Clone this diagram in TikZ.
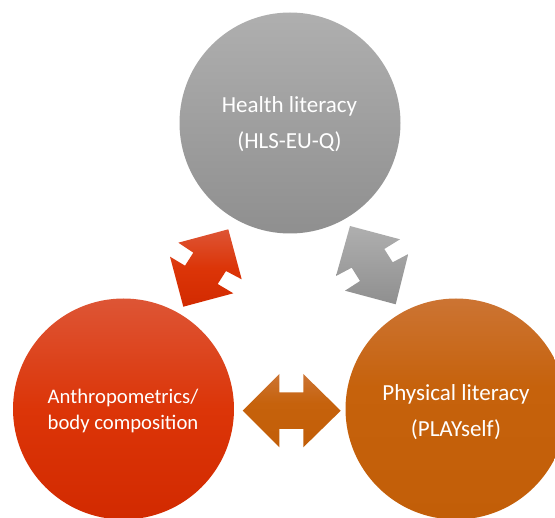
\documentclass[tikz,border=0pt]{standalone}
\usepackage{fontspec}
\setmainfont{Carlito}
\definecolor{gl}{HTML}{8F8F8F}\definecolor{gh}{HTML}{AFAFAF}
\definecolor{rl}{HTML}{D22A00}\definecolor{rm}{HTML}{DC3508}\definecolor{rh}{HTML}{DD5535}
\definecolor{ol}{HTML}{C25E08}\definecolor{om}{HTML}{C6620C}\definecolor{oh}{HTML}{CC7433}
\pgfdeclareverticalshading{grayshade}{100bp}{color(0bp)=(gl);color(25bp)=(gl);color(75bp)=(gh);color(100bp)=(gh)}
\pgfdeclareverticalshading{redshade}{100bp}{color(0bp)=(rl);color(25bp)=(rl);color(50bp)=(rm);color(75bp)=(rh);color(100bp)=(rh)}
\pgfdeclareverticalshading{orgshade}{100bp}{color(0bp)=(ol);color(25bp)=(ol);color(55bp)=(om);color(75bp)=(oh);color(100bp)=(oh)}
\tikzset{
  x=1pt,y=-1pt,
  disc/.style={circle,minimum size=221pt,inner sep=0pt,text=white,align=center},
  lab/.style={text=white,align=center,font=\fontsize{23}{35.5}\selectfont},
  labtight/.style={text=white,align=center,font=\fontsize{20.7}{26}\selectfont},
  grayfill/.style={shading=grayshade},
  redfill/.style={shading=redshade},
  orgfill/.style={shading=orgshade}
}
\begin{document}
\begin{tikzpicture}
\useasboundingbox (0,0) rectangle (555,518);
\clip (0,0) rectangle (555,518);
\node[disc,grayfill] (health) at (290,123) {};
\node[disc,redfill] (anthro) at (123.5,409) {};
\node[disc,orgfill] (phys) at (456,409) {};
\node[lab] (healthtext) at (289.5,124) {Health literacy\\(HLS-EU-Q)};
\node[labtight] (anthrotext) at (123,410.5) {Anthropometrics/\\body composition};
\node[lab] (phystext) at (456,412) {Physical literacy\\(PLAYself)};
\path[redfill] (228.3,229.3) -- (241.7,279.3) -- (226,271) -- (217.7,284) -- (233.3,293.3) -- (183.3,306.7) -- (170,256.7) -- (185,265.7) -- (193.3,252.7) -- (178.3,242.7) -- cycle;
\path[grayfill] (350,226) -- (400,239.3) -- (384.3,249) -- (392.7,262.3) -- (408.3,254) -- (395.7,304.3) -- (345,290.7) -- (360,281) -- (351.7,267.7) -- (336,276) -- cycle;
\path[orgfill] (242.7,410.7) -- (279.3,374) -- (279.3,392.3) -- (303.3,392.3) -- (303.3,374) -- (340.7,410.7) -- (303.3,447.3) -- (303.3,429) -- (279.3,429) -- (279.3,447.3) -- cycle;
\end{tikzpicture}
\end{document}
